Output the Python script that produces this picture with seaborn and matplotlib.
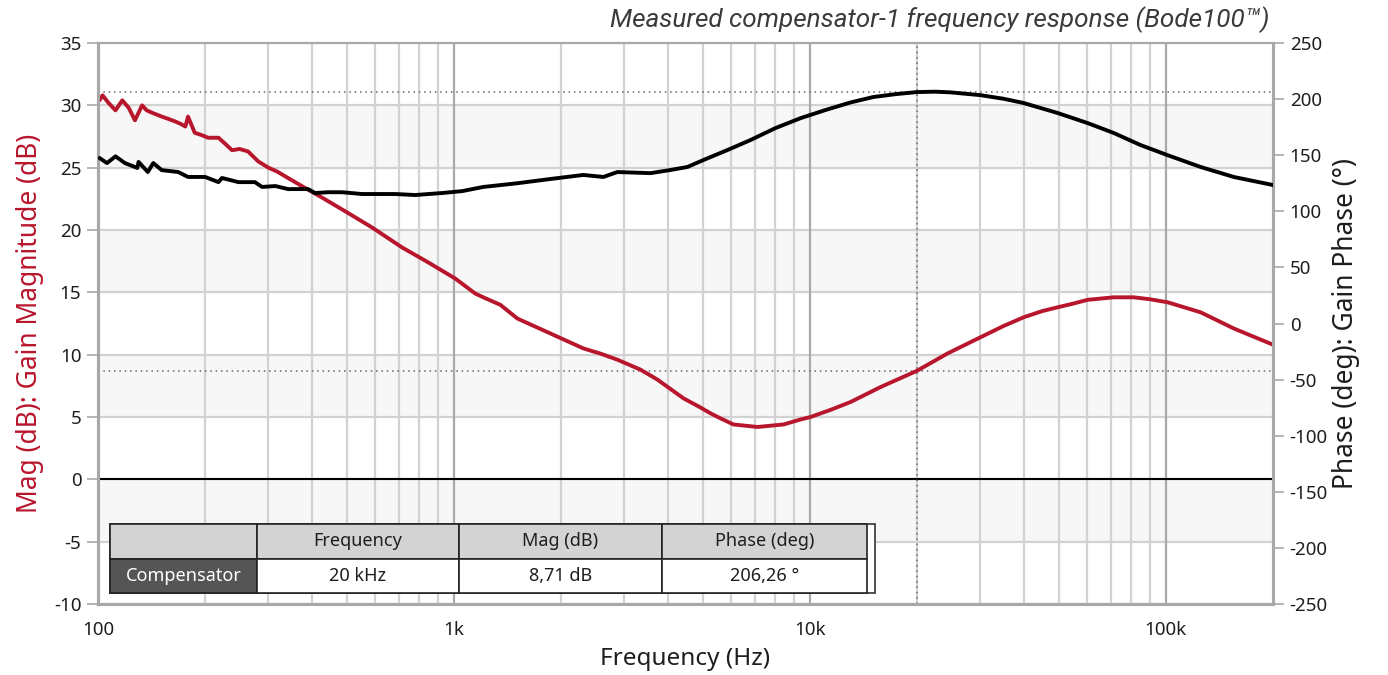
import numpy as np
import pandas as pd
import matplotlib
matplotlib.use("Agg")
import matplotlib.pyplot as plt
from matplotlib.ticker import FixedLocator, NullFormatter
from matplotlib.patches import Rectangle
import seaborn as sns

# Measured gain magnitude (dB) vs frequency (Hz)
mag_freq = [101, 103, 107, 112, 117, 122, 127, 133, 137, 142, 151, 158, 165, 171,
            176, 179, 187, 196, 204, 218, 228, 238, 250, 264, 282, 301, 318, 336,
            375, 426, 495, 589, 715, 847, 1009, 1148, 1209, 1350, 1507, 1866,
            2310, 2570, 2877, 3341, 3729, 4413, 4900, 5254, 5600, 6100, 7124,
            8430, 9410, 10040, 11500, 13000, 15790, 20000, 24370, 30170, 35000,
            39860, 45000, 49660, 55000, 60330, 71380, 81220, 90000, 101200,
            125200, 155200, 200000]
mag_db = [30.4, 30.8, 30.2, 29.6, 30.4, 29.8, 28.8, 30.0, 29.6, 29.4, 29.1, 28.9,
          28.7, 28.5, 28.3, 29.1, 27.8, 27.6, 27.4, 27.4, 26.9, 26.4, 26.5, 26.3,
          25.5, 25.0, 24.7, 24.3, 23.5, 22.6, 21.5, 20.2, 18.6, 17.4, 16.1, 14.9,
          14.6, 14.0, 12.9, 11.7, 10.5, 10.1, 9.6, 8.8, 8.0, 6.5, 5.8, 5.3, 4.9,
          4.4, 4.2, 4.4, 4.8, 5.0, 5.6, 6.2, 7.4, 8.71, 10.1, 11.4, 12.3, 13.0,
          13.5, 13.8, 14.1, 14.4, 14.6, 14.6, 14.45, 14.2, 13.4, 12.1, 10.8]

# Measured gain phase (deg) vs frequency (Hz)
ph_freq = [101, 106, 112, 119, 129, 130, 138, 143, 151, 168, 179, 200, 218, 223,
           248, 276, 289, 315, 342, 389, 407, 443, 485, 552, 684, 778, 927, 1055,
           1209, 1507, 1866, 2310, 2630, 2877, 3565, 4056, 4527, 5022, 5866,
           6808, 8005, 9410, 11065, 13000, 15100, 17500, 20000, 22500, 24830,
           30170, 35000, 39860, 49660, 60330, 71380, 84960, 101200, 125200,
           155200, 200000]
ph_deg = [147.5, 143.0, 149.0, 143.0, 138.6, 144.0, 135.0, 143.0, 136.7, 135.0,
          130.6, 130.6, 126.0, 129.7, 126.0, 126.0, 121.7, 122.5, 119.8, 119.8,
          116.3, 117.0, 117.0, 115.4, 115.4, 114.5, 116.3, 118.0, 121.7, 125.0,
          128.8, 132.4, 130.6, 135.0, 134.0, 136.8, 139.5, 145.7, 154.6, 163.5,
          174.2, 183.0, 190.3, 197.0, 201.9, 204.5, 206.26, 206.6, 206.0,
          203.5, 200.3, 196.5, 187.6, 178.6, 169.8, 159.0, 150.0, 139.5,
          130.6, 123.4]

# Cursor readout
cursor_freq = 20000
cursor_mag = 8.71
cursor_phase = 206.26
table_header = ["", "Frequency", "Mag (dB)", "Phase (deg)"]
table_row = ["Compensator", "20 kHz", "8,71 dB", "206,26 °"]

x_ticks = [100, 1000, 10000, 100000]
x_tick_labels = ["100", "1k", "10k", "100k"]
mag_ticks = list(range(-10, 36, 5))
phase_ticks = list(range(-250, 251, 50))

sns.set_theme(style="white")
plt.rcParams["font.family"] = ["Noto Sans", "DejaVu Sans"]
plt.rcParams["axes.unicode_minus"] = False

RED = "#b8162c"
GRID = "#d2d2d2"
MAJOR_GRID = "#a9a9a9"
SPINE = "#a8a8a8"
TXT = "#1e1e1e"

fig = plt.figure(figsize=(13.88, 6.75), dpi=100)
ax = fig.add_axes([98 / 1388, 1 - 604 / 675, 1175 / 1388, 561 / 675])
ax2 = ax.twinx()

ax.set_xscale("log")
ax.set_xlim(100, 200000)
ax.set_ylim(-10, 35)
ax2.set_ylim(-250, 250)

# alternating light bands
for lo in (-5, 5, 15, 25):
    ax.axhspan(lo, lo + 5, color="#f7f7f7", zorder=0, lw=0)

# grid
for y in mag_ticks:
    ax.axhline(y, color=GRID, lw=1.6, zorder=1)
minor = [m * 10 ** d for d in range(2, 6) for m in range(2, 10) if m * 10 ** d < 200000]
for xv in minor:
    ax.axvline(xv, color=GRID, lw=1.6, zorder=1)
for xv in x_ticks[1:]:
    ax.axvline(xv, color=MAJOR_GRID, lw=1.6, zorder=1)
ax.axhline(0, color="black", lw=1.5, zorder=2)

# cursor lines
ax.axvline(cursor_freq, color="#666666", lw=1.1, ls=(0, (1, 2.5)), zorder=2)
ax.axhline(cursor_mag, color="#666666", lw=1.1, ls=(0, (1, 2.5)), zorder=2)
ax2.axhline(cursor_phase, color="#666666", lw=1.1, ls=(0, (1, 2.5)), zorder=2)

df_mag = pd.DataFrame({"f": mag_freq, "mag": mag_db})
df_ph = pd.DataFrame({"f": ph_freq, "phase": ph_deg})
sns.lineplot(data=df_mag, x="f", y="mag", ax=ax, color=RED, lw=2.8, zorder=3)
sns.lineplot(data=df_ph, x="f", y="phase", ax=ax2, color="black", lw=2.8, zorder=3)

# axes decoration
ax.xaxis.set_major_locator(FixedLocator(x_ticks))
ax.set_xticklabels(x_tick_labels)
ax.xaxis.set_minor_formatter(NullFormatter())
ax.tick_params(axis="x", which="both", length=0, pad=12, labelsize=13.5, colors=TXT)
ax.set_yticks(mag_ticks)
ax.tick_params(axis="y", length=8, width=1.2, color=SPINE, labelsize=13.5,
               labelcolor=TXT, pad=4, left=True)
ax2.set_yticks(phase_ticks)
ax2.tick_params(axis="y", length=8, width=1.2, color=SPINE, labelsize=13.5,
                labelcolor=TXT, pad=4, right=True)

for a in (ax, ax2):
    for s in a.spines.values():
        s.set_color(SPINE)
        s.set_linewidth(2.2)
ax2.spines["top"].set_linewidth(1.5)
ax.spines["top"].set_linewidth(1.5)

ax.set_xlabel("Frequency (Hz)", fontsize=17.5, color=TXT, labelpad=6)
ax.set_ylabel("Mag (dB): Gain Magnitude (dB)", fontsize=19, color=RED, labelpad=7)
ax2.set_ylabel("Phase (deg): Gain Phase (°)", fontsize=19, color=TXT, labelpad=3)

fig.text(1270 / 1388, 1 - 20 / 675, "Measured compensator-1 frequency response (Bode100™)",
         ha="right", va="center", fontsize=18.8, style="italic", color="#3a3a3a",
         family=["Roboto", "DejaVu Sans"])

# cursor readout table
W, H = 1175.0, 561.0
x0, x1 = (110 - 98) / W, (867 - 98) / W
y0, y1 = (604 - 593) / H, (604 - 524) / H
ax2.add_patch(Rectangle((x0, y0), (875 - 110) / W, y1 - y0, transform=ax2.transAxes,
                        facecolor="white", edgecolor="#333333", lw=1.2, zorder=8))
tbl = ax2.table(cellText=[table_header, table_row], bbox=[x0, y0, x1 - x0, y1 - y0],
                cellLoc="center", colWidths=[147, 202, 203, 205])
tbl.auto_set_font_size(False)
tbl.set_zorder(9)
for (r, c), cell in tbl.get_celld().items():
    cell.set_edgecolor("#222222")
    cell.set_linewidth(1.2)
    cell.get_text().set_fontsize(13)
    cell.get_text().set_color(TXT)
    if r == 0:
        cell.set_facecolor("#d3d3d3")
    elif c == 0:
        cell.set_facecolor("#555555")
        cell.get_text().set_color("white")
    else:
        cell.set_facecolor("white")

fig.savefig("out.png", dpi=100)
